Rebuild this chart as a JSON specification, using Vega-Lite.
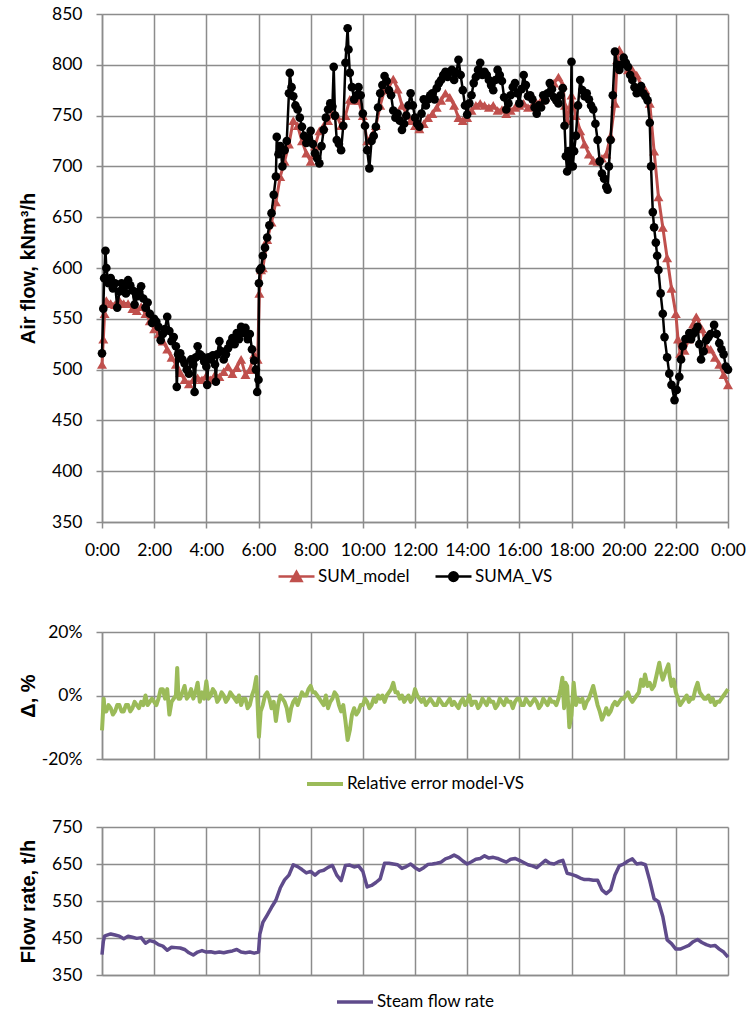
{
"$schema": "https://vega.github.io/schema/vega-lite/v6.json",
"background": "white",
"padding": {"left": 18, "top": 5, "right": 5, "bottom": 5},
"bounds": "flush",
"spacing": 110,
"resolve": {"scale": {"color": "independent"}, "legend": {"color": "independent"}},
"config": {
  "font": "Lato",
  "view": {"stroke": null},
  "axis": {"grid": true, "gridColor": "#8C8C8C", "gridWidth": 1.5, "gridOpacity": 1, "domainColor": "#8C8C8C", "domainWidth": 1.5, "tickColor": "#8C8C8C", "tickWidth": 1.5, "tickSize": 6, "labelFont": "Lato", "labelFontSize": 17.5, "labelColor": "#000000", "labelFlush": false, "labelOverlap": false, "titleFont": "Liberation Sans", "titleFontSize": 20, "titleFontWeight": "bold", "titleColor": "#000000"},
  "legend": {"layout": {"bottom": {"anchor": "middle"}}, "labelFont": "Lato", "labelFontSize": 17, "labelColor": "#000000", "labelLimit": 0}
},
"datasets": {
"air": [
{"t":0,"s":"SUM_model","v":505},{"t":3,"s":"SUM_model","v":530},{"t":6,"s":"SUM_model","v":555},{"t":10,"s":"SUM_model","v":568},{"t":20,"s":"SUM_model","v":565},{"t":30,"s":"SUM_model","v":564},{"t":40,"s":"SUM_model","v":568},{"t":50,"s":"SUM_model","v":565},{"t":60,"s":"SUM_model","v":565},{"t":70,"s":"SUM_model","v":560},{"t":80,"s":"SUM_model","v":558},{"t":90,"s":"SUM_model","v":562},{"t":100,"s":"SUM_model","v":555},{"t":110,"s":"SUM_model","v":548},{"t":120,"s":"SUM_model","v":540},{"t":130,"s":"SUM_model","v":535},{"t":140,"s":"SUM_model","v":528},{"t":150,"s":"SUM_model","v":520},{"t":160,"s":"SUM_model","v":512},{"t":170,"s":"SUM_model","v":505},{"t":180,"s":"SUM_model","v":497},{"t":190,"s":"SUM_model","v":490},{"t":200,"s":"SUM_model","v":486},{"t":210,"s":"SUM_model","v":490},{"t":220,"s":"SUM_model","v":492},{"t":230,"s":"SUM_model","v":490},{"t":240,"s":"SUM_model","v":494},{"t":250,"s":"SUM_model","v":490},{"t":260,"s":"SUM_model","v":495},{"t":270,"s":"SUM_model","v":493},{"t":280,"s":"SUM_model","v":498},{"t":290,"s":"SUM_model","v":503},{"t":300,"s":"SUM_model","v":496},{"t":310,"s":"SUM_model","v":502},{"t":320,"s":"SUM_model","v":510},{"t":330,"s":"SUM_model","v":495},{"t":340,"s":"SUM_model","v":500},{"t":350,"s":"SUM_model","v":515},{"t":358,"s":"SUM_model","v":510},{"t":362,"s":"SUM_model","v":575},{"t":366,"s":"SUM_model","v":598},{"t":370,"s":"SUM_model","v":600},{"t":380,"s":"SUM_model","v":628},{"t":390,"s":"SUM_model","v":645},{"t":400,"s":"SUM_model","v":665},{"t":410,"s":"SUM_model","v":690},{"t":420,"s":"SUM_model","v":705},{"t":430,"s":"SUM_model","v":722},{"t":440,"s":"SUM_model","v":745},{"t":450,"s":"SUM_model","v":740},{"t":460,"s":"SUM_model","v":725},{"t":470,"s":"SUM_model","v":713},{"t":480,"s":"SUM_model","v":705},{"t":490,"s":"SUM_model","v":720},{"t":500,"s":"SUM_model","v":735},{"t":510,"s":"SUM_model","v":740},{"t":520,"s":"SUM_model","v":745},{"t":530,"s":"SUM_model","v":752},{"t":540,"s":"SUM_model","v":750},{"t":550,"s":"SUM_model","v":740},{"t":560,"s":"SUM_model","v":750},{"t":570,"s":"SUM_model","v":766},{"t":580,"s":"SUM_model","v":765},{"t":590,"s":"SUM_model","v":765},{"t":600,"s":"SUM_model","v":750},{"t":610,"s":"SUM_model","v":725},{"t":620,"s":"SUM_model","v":730},{"t":630,"s":"SUM_model","v":740},{"t":640,"s":"SUM_model","v":760},{"t":650,"s":"SUM_model","v":775},{"t":660,"s":"SUM_model","v":778},{"t":670,"s":"SUM_model","v":786},{"t":680,"s":"SUM_model","v":776},{"t":690,"s":"SUM_model","v":760},{"t":700,"s":"SUM_model","v":752},{"t":710,"s":"SUM_model","v":745},{"t":720,"s":"SUM_model","v":740},{"t":730,"s":"SUM_model","v":737},{"t":740,"s":"SUM_model","v":742},{"t":750,"s":"SUM_model","v":748},{"t":760,"s":"SUM_model","v":752},{"t":770,"s":"SUM_model","v":758},{"t":780,"s":"SUM_model","v":765},{"t":790,"s":"SUM_model","v":772},{"t":800,"s":"SUM_model","v":768},{"t":810,"s":"SUM_model","v":760},{"t":820,"s":"SUM_model","v":748},{"t":830,"s":"SUM_model","v":745},{"t":840,"s":"SUM_model","v":748},{"t":850,"s":"SUM_model","v":755},{"t":860,"s":"SUM_model","v":760},{"t":870,"s":"SUM_model","v":762},{"t":880,"s":"SUM_model","v":760},{"t":890,"s":"SUM_model","v":758},{"t":900,"s":"SUM_model","v":760},{"t":910,"s":"SUM_model","v":755},{"t":920,"s":"SUM_model","v":756},{"t":930,"s":"SUM_model","v":752},{"t":940,"s":"SUM_model","v":755},{"t":950,"s":"SUM_model","v":758},{"t":960,"s":"SUM_model","v":760},{"t":970,"s":"SUM_model","v":762},{"t":980,"s":"SUM_model","v":758},{"t":990,"s":"SUM_model","v":760},{"t":1000,"s":"SUM_model","v":762},{"t":1010,"s":"SUM_model","v":765},{"t":1020,"s":"SUM_model","v":768},{"t":1030,"s":"SUM_model","v":775},{"t":1040,"s":"SUM_model","v":782},{"t":1050,"s":"SUM_model","v":788},{"t":1060,"s":"SUM_model","v":780},{"t":1065,"s":"SUM_model","v":760},{"t":1070,"s":"SUM_model","v":745},{"t":1080,"s":"SUM_model","v":770},{"t":1090,"s":"SUM_model","v":750},{"t":1100,"s":"SUM_model","v":735},{"t":1110,"s":"SUM_model","v":722},{"t":1120,"s":"SUM_model","v":712},{"t":1130,"s":"SUM_model","v":706},{"t":1140,"s":"SUM_model","v":705},{"t":1150,"s":"SUM_model","v":708},{"t":1160,"s":"SUM_model","v":712},{"t":1170,"s":"SUM_model","v":730},{"t":1180,"s":"SUM_model","v":762},{"t":1185,"s":"SUM_model","v":805},{"t":1190,"s":"SUM_model","v":815},{"t":1200,"s":"SUM_model","v":805},{"t":1210,"s":"SUM_model","v":795},{"t":1220,"s":"SUM_model","v":795},{"t":1230,"s":"SUM_model","v":790},{"t":1240,"s":"SUM_model","v":780},{"t":1250,"s":"SUM_model","v":775},{"t":1260,"s":"SUM_model","v":762},{"t":1270,"s":"SUM_model","v":715},{"t":1280,"s":"SUM_model","v":670},{"t":1290,"s":"SUM_model","v":640},{"t":1300,"s":"SUM_model","v":610},{"t":1310,"s":"SUM_model","v":580},{"t":1320,"s":"SUM_model","v":555},{"t":1325,"s":"SUM_model","v":530},{"t":1330,"s":"SUM_model","v":516},{"t":1340,"s":"SUM_model","v":519},{"t":1350,"s":"SUM_model","v":530},{"t":1360,"s":"SUM_model","v":545},{"t":1367,"s":"SUM_model","v":552},{"t":1380,"s":"SUM_model","v":540},{"t":1390,"s":"SUM_model","v":523},{"t":1400,"s":"SUM_model","v":520},{"t":1410,"s":"SUM_model","v":512},{"t":1420,"s":"SUM_model","v":505},{"t":1430,"s":"SUM_model","v":495},{"t":1440,"s":"SUM_model","v":485},
{"t":0,"s":"SUMA_VS","v":516},{"t":3,"s":"SUMA_VS","v":560},{"t":5,"s":"SUMA_VS","v":590},{"t":8,"s":"SUMA_VS","v":617},{"t":10,"s":"SUMA_VS","v":600},{"t":15,"s":"SUMA_VS","v":585},{"t":20,"s":"SUMA_VS","v":590},{"t":25,"s":"SUMA_VS","v":580},{"t":30,"s":"SUMA_VS","v":585},{"t":35,"s":"SUMA_VS","v":561},{"t":40,"s":"SUMA_VS","v":577},{"t":45,"s":"SUMA_VS","v":585},{"t":50,"s":"SUMA_VS","v":582},{"t":55,"s":"SUMA_VS","v":575},{"t":60,"s":"SUMA_VS","v":588},{"t":65,"s":"SUMA_VS","v":583},{"t":70,"s":"SUMA_VS","v":578},{"t":75,"s":"SUMA_VS","v":564},{"t":80,"s":"SUMA_VS","v":572},{"t":85,"s":"SUMA_VS","v":577},{"t":90,"s":"SUMA_VS","v":582},{"t":95,"s":"SUMA_VS","v":570},{"t":100,"s":"SUMA_VS","v":561},{"t":105,"s":"SUMA_VS","v":566},{"t":110,"s":"SUMA_VS","v":555},{"t":115,"s":"SUMA_VS","v":546},{"t":120,"s":"SUMA_VS","v":550},{"t":125,"s":"SUMA_VS","v":547},{"t":130,"s":"SUMA_VS","v":542},{"t":135,"s":"SUMA_VS","v":529},{"t":140,"s":"SUMA_VS","v":535},{"t":145,"s":"SUMA_VS","v":540},{"t":150,"s":"SUMA_VS","v":552},{"t":155,"s":"SUMA_VS","v":538},{"t":160,"s":"SUMA_VS","v":528},{"t":165,"s":"SUMA_VS","v":532},{"t":170,"s":"SUMA_VS","v":523},{"t":172,"s":"SUMA_VS","v":483},{"t":175,"s":"SUMA_VS","v":515},{"t":180,"s":"SUMA_VS","v":516},{"t":185,"s":"SUMA_VS","v":510},{"t":190,"s":"SUMA_VS","v":506},{"t":195,"s":"SUMA_VS","v":500},{"t":200,"s":"SUMA_VS","v":496},{"t":205,"s":"SUMA_VS","v":510},{"t":210,"s":"SUMA_VS","v":505},{"t":213,"s":"SUMA_VS","v":478},{"t":216,"s":"SUMA_VS","v":512},{"t":220,"s":"SUMA_VS","v":523},{"t":225,"s":"SUMA_VS","v":515},{"t":230,"s":"SUMA_VS","v":513},{"t":235,"s":"SUMA_VS","v":508},{"t":240,"s":"SUMA_VS","v":503},{"t":242,"s":"SUMA_VS","v":485},{"t":245,"s":"SUMA_VS","v":512},{"t":250,"s":"SUMA_VS","v":510},{"t":255,"s":"SUMA_VS","v":514},{"t":260,"s":"SUMA_VS","v":505},{"t":262,"s":"SUMA_VS","v":488},{"t":265,"s":"SUMA_VS","v":515},{"t":270,"s":"SUMA_VS","v":528},{"t":275,"s":"SUMA_VS","v":518},{"t":280,"s":"SUMA_VS","v":510},{"t":285,"s":"SUMA_VS","v":515},{"t":290,"s":"SUMA_VS","v":521},{"t":295,"s":"SUMA_VS","v":526},{"t":300,"s":"SUMA_VS","v":531},{"t":305,"s":"SUMA_VS","v":525},{"t":310,"s":"SUMA_VS","v":536},{"t":315,"s":"SUMA_VS","v":530},{"t":320,"s":"SUMA_VS","v":542},{"t":325,"s":"SUMA_VS","v":536},{"t":330,"s":"SUMA_VS","v":541},{"t":335,"s":"SUMA_VS","v":530},{"t":340,"s":"SUMA_VS","v":535},{"t":345,"s":"SUMA_VS","v":520},{"t":350,"s":"SUMA_VS","v":509},{"t":354,"s":"SUMA_VS","v":500},{"t":357,"s":"SUMA_VS","v":478},{"t":360,"s":"SUMA_VS","v":490},{"t":361,"s":"SUMA_VS","v":585},{"t":363,"s":"SUMA_VS","v":598},{"t":366,"s":"SUMA_VS","v":600},{"t":370,"s":"SUMA_VS","v":612},{"t":375,"s":"SUMA_VS","v":620},{"t":380,"s":"SUMA_VS","v":630},{"t":385,"s":"SUMA_VS","v":642},{"t":390,"s":"SUMA_VS","v":654},{"t":395,"s":"SUMA_VS","v":672},{"t":400,"s":"SUMA_VS","v":690},{"t":402,"s":"SUMA_VS","v":729},{"t":406,"s":"SUMA_VS","v":712},{"t":410,"s":"SUMA_VS","v":720},{"t":415,"s":"SUMA_VS","v":700},{"t":420,"s":"SUMA_VS","v":716},{"t":425,"s":"SUMA_VS","v":725},{"t":430,"s":"SUMA_VS","v":772},{"t":432,"s":"SUMA_VS","v":792},{"t":436,"s":"SUMA_VS","v":778},{"t":440,"s":"SUMA_VS","v":769},{"t":445,"s":"SUMA_VS","v":760},{"t":450,"s":"SUMA_VS","v":756},{"t":455,"s":"SUMA_VS","v":748},{"t":460,"s":"SUMA_VS","v":739},{"t":465,"s":"SUMA_VS","v":730},{"t":470,"s":"SUMA_VS","v":723},{"t":475,"s":"SUMA_VS","v":728},{"t":480,"s":"SUMA_VS","v":735},{"t":485,"s":"SUMA_VS","v":722},{"t":490,"s":"SUMA_VS","v":713},{"t":495,"s":"SUMA_VS","v":708},{"t":500,"s":"SUMA_VS","v":703},{"t":505,"s":"SUMA_VS","v":720},{"t":510,"s":"SUMA_VS","v":736},{"t":515,"s":"SUMA_VS","v":748},{"t":520,"s":"SUMA_VS","v":756},{"t":525,"s":"SUMA_VS","v":762},{"t":530,"s":"SUMA_VS","v":759},{"t":533,"s":"SUMA_VS","v":798},{"t":536,"s":"SUMA_VS","v":750},{"t":540,"s":"SUMA_VS","v":726},{"t":545,"s":"SUMA_VS","v":722},{"t":550,"s":"SUMA_VS","v":716},{"t":555,"s":"SUMA_VS","v":740},{"t":560,"s":"SUMA_VS","v":802},{"t":565,"s":"SUMA_VS","v":836},{"t":567,"s":"SUMA_VS","v":815},{"t":570,"s":"SUMA_VS","v":792},{"t":575,"s":"SUMA_VS","v":778},{"t":580,"s":"SUMA_VS","v":766},{"t":585,"s":"SUMA_VS","v":770},{"t":590,"s":"SUMA_VS","v":778},{"t":595,"s":"SUMA_VS","v":770},{"t":600,"s":"SUMA_VS","v":752},{"t":605,"s":"SUMA_VS","v":740},{"t":610,"s":"SUMA_VS","v":716},{"t":615,"s":"SUMA_VS","v":698},{"t":620,"s":"SUMA_VS","v":725},{"t":625,"s":"SUMA_VS","v":730},{"t":630,"s":"SUMA_VS","v":739},{"t":635,"s":"SUMA_VS","v":758},{"t":640,"s":"SUMA_VS","v":772},{"t":645,"s":"SUMA_VS","v":780},{"t":650,"s":"SUMA_VS","v":789},{"t":655,"s":"SUMA_VS","v":784},{"t":660,"s":"SUMA_VS","v":775},{"t":665,"s":"SUMA_VS","v":770},{"t":670,"s":"SUMA_VS","v":755},{"t":675,"s":"SUMA_VS","v":748},{"t":680,"s":"SUMA_VS","v":752},{"t":685,"s":"SUMA_VS","v":745},{"t":690,"s":"SUMA_VS","v":736},{"t":695,"s":"SUMA_VS","v":742},{"t":700,"s":"SUMA_VS","v":750},{"t":705,"s":"SUMA_VS","v":760},{"t":710,"s":"SUMA_VS","v":772},{"t":715,"s":"SUMA_VS","v":760},{"t":720,"s":"SUMA_VS","v":748},{"t":725,"s":"SUMA_VS","v":742},{"t":730,"s":"SUMA_VS","v":739},{"t":735,"s":"SUMA_VS","v":752},{"t":740,"s":"SUMA_VS","v":766},{"t":745,"s":"SUMA_VS","v":760},{"t":750,"s":"SUMA_VS","v":766},{"t":755,"s":"SUMA_VS","v":770},{"t":760,"s":"SUMA_VS","v":772},{"t":765,"s":"SUMA_VS","v":766},{"t":770,"s":"SUMA_VS","v":777},{"t":775,"s":"SUMA_VS","v":782},{"t":780,"s":"SUMA_VS","v":785},{"t":785,"s":"SUMA_VS","v":790},{"t":790,"s":"SUMA_VS","v":793},{"t":795,"s":"SUMA_VS","v":788},{"t":800,"s":"SUMA_VS","v":793},{"t":805,"s":"SUMA_VS","v":795},{"t":810,"s":"SUMA_VS","v":785},{"t":815,"s":"SUMA_VS","v":792},{"t":820,"s":"SUMA_VS","v":805},{"t":825,"s":"SUMA_VS","v":790},{"t":830,"s":"SUMA_VS","v":775},{"t":835,"s":"SUMA_VS","v":760},{"t":840,"s":"SUMA_VS","v":751},{"t":845,"s":"SUMA_VS","v":762},{"t":850,"s":"SUMA_VS","v":770},{"t":855,"s":"SUMA_VS","v":782},{"t":860,"s":"SUMA_VS","v":788},{"t":865,"s":"SUMA_VS","v":795},{"t":870,"s":"SUMA_VS","v":802},{"t":875,"s":"SUMA_VS","v":790},{"t":880,"s":"SUMA_VS","v":793},{"t":885,"s":"SUMA_VS","v":790},{"t":890,"s":"SUMA_VS","v":785},{"t":895,"s":"SUMA_VS","v":780},{"t":900,"s":"SUMA_VS","v":775},{"t":905,"s":"SUMA_VS","v":785},{"t":910,"s":"SUMA_VS","v":795},{"t":915,"s":"SUMA_VS","v":790},{"t":920,"s":"SUMA_VS","v":784},{"t":925,"s":"SUMA_VS","v":768},{"t":930,"s":"SUMA_VS","v":756},{"t":935,"s":"SUMA_VS","v":762},{"t":940,"s":"SUMA_VS","v":770},{"t":945,"s":"SUMA_VS","v":778},{"t":950,"s":"SUMA_VS","v":782},{"t":955,"s":"SUMA_VS","v":772},{"t":960,"s":"SUMA_VS","v":762},{"t":965,"s":"SUMA_VS","v":776},{"t":970,"s":"SUMA_VS","v":790},{"t":975,"s":"SUMA_VS","v":780},{"t":980,"s":"SUMA_VS","v":769},{"t":985,"s":"SUMA_VS","v":770},{"t":990,"s":"SUMA_VS","v":766},{"t":995,"s":"SUMA_VS","v":758},{"t":1000,"s":"SUMA_VS","v":752},{"t":1005,"s":"SUMA_VS","v":760},{"t":1010,"s":"SUMA_VS","v":758},{"t":1015,"s":"SUMA_VS","v":770},{"t":1020,"s":"SUMA_VS","v":765},{"t":1025,"s":"SUMA_VS","v":772},{"t":1030,"s":"SUMA_VS","v":782},{"t":1035,"s":"SUMA_VS","v":776},{"t":1040,"s":"SUMA_VS","v":768},{"t":1045,"s":"SUMA_VS","v":765},{"t":1050,"s":"SUMA_VS","v":762},{"t":1055,"s":"SUMA_VS","v":770},{"t":1060,"s":"SUMA_VS","v":777},{"t":1064,"s":"SUMA_VS","v":740},{"t":1067,"s":"SUMA_VS","v":710},{"t":1070,"s":"SUMA_VS","v":695},{"t":1073,"s":"SUMA_VS","v":715},{"t":1077,"s":"SUMA_VS","v":700},{"t":1080,"s":"SUMA_VS","v":803},{"t":1083,"s":"SUMA_VS","v":700},{"t":1086,"s":"SUMA_VS","v":715},{"t":1090,"s":"SUMA_VS","v":730},{"t":1095,"s":"SUMA_VS","v":760},{"t":1100,"s":"SUMA_VS","v":785},{"t":1105,"s":"SUMA_VS","v":775},{"t":1110,"s":"SUMA_VS","v":769},{"t":1115,"s":"SUMA_VS","v":772},{"t":1120,"s":"SUMA_VS","v":766},{"t":1125,"s":"SUMA_VS","v":760},{"t":1130,"s":"SUMA_VS","v":756},{"t":1135,"s":"SUMA_VS","v":742},{"t":1140,"s":"SUMA_VS","v":726},{"t":1145,"s":"SUMA_VS","v":705},{"t":1150,"s":"SUMA_VS","v":693},{"t":1155,"s":"SUMA_VS","v":688},{"t":1160,"s":"SUMA_VS","v":680},{"t":1163,"s":"SUMA_VS","v":677},{"t":1166,"s":"SUMA_VS","v":700},{"t":1170,"s":"SUMA_VS","v":726},{"t":1175,"s":"SUMA_VS","v":770},{"t":1180,"s":"SUMA_VS","v":813},{"t":1185,"s":"SUMA_VS","v":800},{"t":1190,"s":"SUMA_VS","v":795},{"t":1195,"s":"SUMA_VS","v":800},{"t":1200,"s":"SUMA_VS","v":807},{"t":1205,"s":"SUMA_VS","v":802},{"t":1210,"s":"SUMA_VS","v":798},{"t":1215,"s":"SUMA_VS","v":790},{"t":1220,"s":"SUMA_VS","v":785},{"t":1225,"s":"SUMA_VS","v":778},{"t":1230,"s":"SUMA_VS","v":772},{"t":1235,"s":"SUMA_VS","v":776},{"t":1240,"s":"SUMA_VS","v":779},{"t":1245,"s":"SUMA_VS","v":772},{"t":1250,"s":"SUMA_VS","v":769},{"t":1255,"s":"SUMA_VS","v":765},{"t":1260,"s":"SUMA_VS","v":743},{"t":1263,"s":"SUMA_VS","v":700},{"t":1267,"s":"SUMA_VS","v":655},{"t":1270,"s":"SUMA_VS","v":640},{"t":1274,"s":"SUMA_VS","v":625},{"t":1277,"s":"SUMA_VS","v":612},{"t":1280,"s":"SUMA_VS","v":598},{"t":1285,"s":"SUMA_VS","v":575},{"t":1290,"s":"SUMA_VS","v":555},{"t":1294,"s":"SUMA_VS","v":532},{"t":1300,"s":"SUMA_VS","v":512},{"t":1305,"s":"SUMA_VS","v":496},{"t":1310,"s":"SUMA_VS","v":485},{"t":1317,"s":"SUMA_VS","v":470},{"t":1322,"s":"SUMA_VS","v":480},{"t":1328,"s":"SUMA_VS","v":493},{"t":1332,"s":"SUMA_VS","v":510},{"t":1336,"s":"SUMA_VS","v":523},{"t":1342,"s":"SUMA_VS","v":530},{"t":1351,"s":"SUMA_VS","v":536},{"t":1355,"s":"SUMA_VS","v":530},{"t":1360,"s":"SUMA_VS","v":535},{"t":1365,"s":"SUMA_VS","v":538},{"t":1370,"s":"SUMA_VS","v":542},{"t":1374,"s":"SUMA_VS","v":525},{"t":1378,"s":"SUMA_VS","v":510},{"t":1384,"s":"SUMA_VS","v":518},{"t":1390,"s":"SUMA_VS","v":529},{"t":1395,"s":"SUMA_VS","v":532},{"t":1400,"s":"SUMA_VS","v":535},{"t":1408,"s":"SUMA_VS","v":544},{"t":1414,"s":"SUMA_VS","v":535},{"t":1420,"s":"SUMA_VS","v":526},{"t":1425,"s":"SUMA_VS","v":520},{"t":1430,"s":"SUMA_VS","v":515},{"t":1435,"s":"SUMA_VS","v":503},{"t":1440,"s":"SUMA_VS","v":500}
],
"err": [
{"t":0,"v":-11},{"t":2,"v":-6},{"t":4,"v":-1},{"t":6,"v":-5},{"t":10,"v":-5},{"t":15,"v":-3},{"t":20,"v":-4},{"t":25,"v":-6},{"t":30,"v":-5},{"t":35,"v":-3},{"t":40,"v":-3},{"t":45,"v":-5},{"t":50,"v":-5},{"t":55,"v":-3},{"t":60,"v":-3},{"t":65,"v":-5},{"t":70,"v":-4},{"t":75,"v":-2},{"t":80,"v":-3},{"t":85,"v":-4},{"t":90,"v":-2},{"t":95,"v":-3},{"t":100,"v":0},{"t":105,"v":-3},{"t":110,"v":-2},{"t":115,"v":-1},{"t":120,"v":-2},{"t":125,"v":-3},{"t":130,"v":-1},{"t":135,"v":2},{"t":140,"v":2},{"t":145,"v":-1},{"t":150,"v":2},{"t":155,"v":-6},{"t":160,"v":-2},{"t":165,"v":-1},{"t":170,"v":0},{"t":173,"v":8.7},{"t":176,"v":-1},{"t":180,"v":-1},{"t":185,"v":1},{"t":190,"v":3},{"t":195,"v":-1},{"t":200,"v":0},{"t":205,"v":2},{"t":210,"v":-1},{"t":215,"v":1},{"t":220,"v":4},{"t":225,"v":-2},{"t":230,"v":1},{"t":235,"v":-1},{"t":240,"v":4.5},{"t":245,"v":-1},{"t":250,"v":0},{"t":255,"v":2},{"t":260,"v":1},{"t":265,"v":-2},{"t":270,"v":-1},{"t":275,"v":1},{"t":280,"v":0},{"t":285,"v":-2},{"t":290,"v":-1},{"t":295,"v":1},{"t":300,"v":0},{"t":305,"v":-1},{"t":310,"v":-2},{"t":315,"v":0},{"t":320,"v":-3},{"t":325,"v":-1},{"t":330,"v":-1},{"t":335,"v":-4},{"t":340,"v":-3},{"t":345,"v":0},{"t":350,"v":2},{"t":355,"v":5.8},{"t":358,"v":-3},{"t":361,"v":-13},{"t":365,"v":-5},{"t":370,"v":-3},{"t":375,"v":0},{"t":380,"v":1},{"t":385,"v":-1},{"t":390,"v":-4},{"t":395,"v":-2},{"t":400,"v":-8},{"t":405,"v":-3},{"t":410,"v":0},{"t":415,"v":-1},{"t":420,"v":-2},{"t":425,"v":-4},{"t":430,"v":-8},{"t":435,"v":-4},{"t":440,"v":-2},{"t":445,"v":-1},{"t":450,"v":-3},{"t":455,"v":-1},{"t":460,"v":1},{"t":465,"v":0},{"t":470,"v":0},{"t":475,"v":2},{"t":480,"v":3},{"t":485,"v":1},{"t":490,"v":1},{"t":495,"v":0},{"t":500,"v":-1},{"t":505,"v":-2},{"t":510,"v":-3},{"t":515,"v":0},{"t":520,"v":-4},{"t":525,"v":-2},{"t":530,"v":-1},{"t":535,"v":1},{"t":540,"v":0},{"t":545,"v":-3},{"t":550,"v":-5},{"t":555,"v":-3},{"t":560,"v":-8},{"t":565,"v":-14},{"t":570,"v":-11},{"t":575,"v":-6},{"t":580,"v":-4},{"t":585,"v":-6},{"t":590,"v":-5},{"t":595,"v":-3},{"t":600,"v":-3},{"t":605,"v":-1},{"t":610,"v":-2},{"t":615,"v":-4},{"t":620,"v":-3},{"t":625,"v":-1},{"t":630,"v":-2},{"t":635,"v":0},{"t":640,"v":-1},{"t":645,"v":0},{"t":650,"v":-2},{"t":655,"v":0},{"t":660,"v":1},{"t":665,"v":2},{"t":670,"v":4},{"t":675,"v":1},{"t":680,"v":1},{"t":685,"v":-1},{"t":690,"v":0},{"t":695,"v":-2},{"t":700,"v":-1},{"t":705,"v":0},{"t":710,"v":-2},{"t":715,"v":-1},{"t":720,"v":2},{"t":725,"v":0},{"t":730,"v":-1},{"t":735,"v":-2},{"t":740,"v":-1},{"t":745,"v":-3},{"t":750,"v":-2},{"t":755,"v":-1},{"t":760,"v":-2},{"t":765,"v":-3},{"t":770,"v":-3},{"t":775,"v":-1},{"t":780,"v":-2},{"t":785,"v":-3},{"t":790,"v":-3},{"t":795,"v":-2},{"t":800,"v":-1},{"t":805,"v":-3},{"t":810,"v":-2},{"t":815,"v":-3},{"t":820,"v":-4},{"t":825,"v":-2},{"t":830,"v":-1},{"t":835,"v":-3},{"t":840,"v":-2},{"t":845,"v":0},{"t":850,"v":-3},{"t":855,"v":-2},{"t":860,"v":-2},{"t":865,"v":-4},{"t":870,"v":-3},{"t":875,"v":-1},{"t":880,"v":-2},{"t":885,"v":-3},{"t":890,"v":-1},{"t":895,"v":-2},{"t":900,"v":-2},{"t":905,"v":-4},{"t":910,"v":-3},{"t":915,"v":-1},{"t":920,"v":-2},{"t":925,"v":-3},{"t":930,"v":-1},{"t":935,"v":-2},{"t":940,"v":-2},{"t":945,"v":-4},{"t":950,"v":-2},{"t":955,"v":-1},{"t":960,"v":-1},{"t":965,"v":-3},{"t":970,"v":-3},{"t":975,"v":-1},{"t":980,"v":-2},{"t":985,"v":-3},{"t":990,"v":-2},{"t":995,"v":-1},{"t":1000,"v":-2},{"t":1005,"v":-4},{"t":1010,"v":-3},{"t":1015,"v":-1},{"t":1020,"v":-2},{"t":1025,"v":-3},{"t":1030,"v":-1},{"t":1035,"v":-2},{"t":1040,"v":-2},{"t":1045,"v":-3},{"t":1050,"v":-1},{"t":1055,"v":2},{"t":1059,"v":5.6},{"t":1063,"v":-4},{"t":1066,"v":4},{"t":1070,"v":3},{"t":1075,"v":-10},{"t":1080,"v":-6},{"t":1085,"v":4},{"t":1090,"v":-3},{"t":1095,"v":-1},{"t":1100,"v":-2},{"t":1105,"v":-1},{"t":1110,"v":-4},{"t":1115,"v":-2},{"t":1120,"v":-1},{"t":1125,"v":1},{"t":1130,"v":3},{"t":1135,"v":0},{"t":1140,"v":-3},{"t":1145,"v":-5},{"t":1150,"v":-7.6},{"t":1155,"v":-6},{"t":1160,"v":-4},{"t":1165,"v":-6},{"t":1170,"v":-5},{"t":1175,"v":-3},{"t":1180,"v":-2},{"t":1185,"v":-3},{"t":1190,"v":-2},{"t":1195,"v":-1},{"t":1200,"v":-1},{"t":1205,"v":0},{"t":1210,"v":1},{"t":1215,"v":-1},{"t":1220,"v":-2},{"t":1225,"v":-1},{"t":1230,"v":0},{"t":1235,"v":1},{"t":1240,"v":5},{"t":1245,"v":3},{"t":1249,"v":6.6},{"t":1255,"v":3},{"t":1260,"v":4},{"t":1265,"v":2},{"t":1270,"v":3},{"t":1275,"v":6},{"t":1282,"v":10.3},{"t":1286,"v":7},{"t":1290,"v":5},{"t":1295,"v":7},{"t":1303,"v":9.8},{"t":1306,"v":6},{"t":1310,"v":3},{"t":1315,"v":5},{"t":1320,"v":1},{"t":1325,"v":-1},{"t":1330,"v":-3},{"t":1335,"v":-2},{"t":1340,"v":-1},{"t":1345,"v":0},{"t":1350,"v":-2},{"t":1355,"v":-1},{"t":1360,"v":-1},{"t":1365,"v":2},{"t":1370,"v":4},{"t":1375,"v":1},{"t":1380,"v":0},{"t":1385,"v":-1},{"t":1390,"v":-1},{"t":1395,"v":0},{"t":1400,"v":-2},{"t":1405,"v":-1},{"t":1410,"v":-3},{"t":1415,"v":-2},{"t":1420,"v":-2},{"t":1425,"v":-1},{"t":1430,"v":0},{"t":1435,"v":1},{"t":1440,"v":2}
],
"steam": [
{"t":0,"v":405},{"t":3,"v":440},{"t":6,"v":455},{"t":10,"v":457},{"t":20,"v":461},{"t":30,"v":458},{"t":40,"v":455},{"t":50,"v":448},{"t":60,"v":455},{"t":70,"v":452},{"t":80,"v":449},{"t":90,"v":451},{"t":100,"v":436},{"t":110,"v":443},{"t":120,"v":440},{"t":130,"v":432},{"t":140,"v":428},{"t":150,"v":417},{"t":160,"v":425},{"t":170,"v":424},{"t":180,"v":423},{"t":190,"v":419},{"t":200,"v":410},{"t":210,"v":404},{"t":220,"v":412},{"t":230,"v":416},{"t":240,"v":412},{"t":250,"v":413},{"t":260,"v":410},{"t":270,"v":412},{"t":280,"v":410},{"t":290,"v":413},{"t":300,"v":415},{"t":310,"v":419},{"t":320,"v":412},{"t":330,"v":410},{"t":340,"v":412},{"t":350,"v":409},{"t":360,"v":412},{"t":363,"v":460},{"t":370,"v":492},{"t":380,"v":512},{"t":390,"v":533},{"t":400,"v":552},{"t":410,"v":585},{"t":420,"v":607},{"t":430,"v":620},{"t":440,"v":648},{"t":450,"v":643},{"t":460,"v":635},{"t":470,"v":626},{"t":480,"v":630},{"t":490,"v":620},{"t":500,"v":630},{"t":510,"v":633},{"t":520,"v":641},{"t":530,"v":646},{"t":540,"v":620},{"t":550,"v":605},{"t":560,"v":646},{"t":570,"v":647},{"t":580,"v":642},{"t":590,"v":645},{"t":600,"v":630},{"t":610,"v":588},{"t":620,"v":592},{"t":630,"v":600},{"t":640,"v":610},{"t":650,"v":652},{"t":660,"v":652},{"t":670,"v":650},{"t":680,"v":648},{"t":690,"v":638},{"t":700,"v":643},{"t":710,"v":650},{"t":720,"v":640},{"t":730,"v":633},{"t":740,"v":640},{"t":750,"v":649},{"t":760,"v":650},{"t":770,"v":652},{"t":780,"v":655},{"t":790,"v":664},{"t":800,"v":668},{"t":810,"v":674},{"t":820,"v":668},{"t":830,"v":658},{"t":840,"v":650},{"t":850,"v":656},{"t":860,"v":663},{"t":870,"v":665},{"t":880,"v":672},{"t":890,"v":666},{"t":900,"v":668},{"t":910,"v":665},{"t":920,"v":660},{"t":930,"v":655},{"t":940,"v":663},{"t":950,"v":665},{"t":960,"v":660},{"t":970,"v":654},{"t":980,"v":648},{"t":990,"v":645},{"t":1000,"v":640},{"t":1010,"v":650},{"t":1020,"v":660},{"t":1030,"v":652},{"t":1040,"v":650},{"t":1050,"v":656},{"t":1060,"v":660},{"t":1070,"v":625},{"t":1080,"v":622},{"t":1090,"v":618},{"t":1100,"v":612},{"t":1110,"v":608},{"t":1120,"v":608},{"t":1130,"v":606},{"t":1140,"v":606},{"t":1150,"v":580},{"t":1160,"v":570},{"t":1170,"v":580},{"t":1180,"v":620},{"t":1190,"v":645},{"t":1200,"v":650},{"t":1210,"v":658},{"t":1220,"v":664},{"t":1230,"v":650},{"t":1240,"v":652},{"t":1250,"v":648},{"t":1260,"v":605},{"t":1270,"v":556},{"t":1280,"v":548},{"t":1290,"v":508},{"t":1300,"v":445},{"t":1310,"v":435},{"t":1320,"v":420},{"t":1330,"v":420},{"t":1340,"v":425},{"t":1350,"v":430},{"t":1360,"v":440},{"t":1370,"v":446},{"t":1380,"v":438},{"t":1390,"v":432},{"t":1400,"v":428},{"t":1410,"v":430},{"t":1420,"v":420},{"t":1430,"v":412},{"t":1440,"v":398}
]
},
"vconcat": [
{
  "width": 626, "height": 508,
  "data": {"name": "air"},
  "encoding": {
    "x": {"field": "t", "type": "quantitative", "scale": {"domain": [0, 1440], "nice": false, "zero": false},
          "axis": {"values": [0,120,240,360,480,600,720,840,960,1080,1200,1320,1440], "labelExpr": "floor(datum.value/60)%24 + ':00'", "title": null, "labelPadding": 13}},
    "y": {"field": "v", "type": "quantitative", "scale": {"domain": [350, 850], "nice": false, "zero": false},
          "axis": {"values": [350,400,450,500,550,600,650,700,750,800,850], "title": "Air flow, kNm³/h", "titleX": -68, "titleBaseline": "alphabetic", "labelPadding": 14}},
    "color": {"field": "s", "type": "nominal", "scale": {"domain": ["SUM_model", "SUMA_VS"], "range": ["#C0504D", "#000000"]},
      "legend": {"orient": "bottom", "direction": "horizontal", "title": null, "offset": -2, "symbolSize": 1296, "symbolStrokeWidth": 2.5, "columnPadding": 20, "labelOffset": 2, "labelFontSize": 17, "labelLimit": 0,
        "encode": {"symbols": {"update": {
          "shape": {"signal": "datum.value === 'SUM_model' ? 'M-1,0H1M-0.28,0.24L0,-0.26L0.28,0.24Z' : 'M-1,0H1M0.24,0A0.24,0.24 0 1,1 -0.24,0A0.24,0.24 0 1,1 0.24,0Z'"},
          "fill": {"signal": "datum.value === 'SUM_model' ? '#C0504D' : '#000000'"},
          "stroke": {"signal": "datum.value === 'SUM_model' ? '#C0504D' : '#000000'"},
          "strokeWidth": {"value": 2.5},
          "opacity": {"value": 1}, "fillOpacity": {"value": 1}, "strokeOpacity": {"value": 1}
        }}}}}
  },
  "layer": [
    {"transform": [{"filter": "datum.s === 'SUM_model'"}], "mark": {"type": "line", "strokeWidth": 3, "strokeJoin": "round"}},
    {"transform": [{"filter": "datum.s === 'SUM_model'"}], "mark": {"type": "point", "filled": true, "shape": "triangle-up", "size": 100, "opacity": 1}},
    {"transform": [{"filter": "datum.s === 'SUMA_VS'"}], "mark": {"type": "line", "strokeWidth": 2.5, "strokeJoin": "round"}},
    {"transform": [{"filter": "datum.s === 'SUMA_VS'"}], "mark": {"type": "point", "filled": true, "shape": "circle", "size": 75, "opacity": 1}}
  ]
},
{
  "spacing": 68,
  "bounds": "flush",
  "resolve": {"scale": {"color": "independent"}, "legend": {"color": "independent"}},
  "vconcat": [
    {
      "width": 626, "height": 127,
      "data": {"name": "err"},
      "mark": {"type": "line", "strokeWidth": 4, "strokeJoin": "round"},
      "encoding": {
        "x": {"field": "t", "type": "quantitative", "scale": {"domain": [0, 1440], "nice": false, "zero": false},
              "axis": {"values": [0,120,240,360,480,600,720,840,960,1080,1200,1320,1440], "labels": false, "ticks": false, "title": null}},
        "y": {"field": "v", "type": "quantitative", "scale": {"domain": [-20, 20], "nice": false, "zero": false},
              "axis": {"values": [-20, 0, 20], "labelExpr": "datum.value + '%'", "title": "Δ, %", "titleX": -68, "titleBaseline": "alphabetic", "labelPadding": 14}},
        "color": {"datum": "Relative error model-VS", "type": "nominal", "scale": {"range": ["#9BBB59"]},
          "legend": {"orient": "bottom", "direction": "horizontal", "title": null, "offset": 5, "symbolType": "stroke", "symbolSize": 1296, "symbolStrokeWidth": 4, "labelOffset": 2, "labelFontSize": 17, "labelLimit": 0}}
      }
    },
    {
      "width": 626, "height": 148,
      "data": {"name": "steam"},
      "mark": {"type": "line", "strokeWidth": 3.5, "strokeJoin": "round"},
      "encoding": {
        "x": {"field": "t", "type": "quantitative", "scale": {"domain": [0, 1440], "nice": false, "zero": false},
              "axis": {"values": [0,120,240,360,480,600,720,840,960,1080,1200,1320,1440], "labels": false, "ticks": false, "title": null}},
        "y": {"field": "v", "type": "quantitative", "scale": {"domain": [350, 750], "nice": false, "zero": false},
              "axis": {"values": [350, 450, 550, 650, 750], "title": "Flow rate, t/h", "titleX": -68, "titleBaseline": "alphabetic", "labelPadding": 14}},
        "color": {"datum": "Steam flow rate", "type": "nominal", "scale": {"range": ["#5F4B8B"]},
          "legend": {"orient": "bottom", "direction": "horizontal", "title": null, "offset": 7, "symbolType": "stroke", "symbolSize": 1296, "symbolStrokeWidth": 3.5, "labelOffset": 2, "labelFontSize": 17, "labelLimit": 0}}
      }
    }
  ]
}
]
}
